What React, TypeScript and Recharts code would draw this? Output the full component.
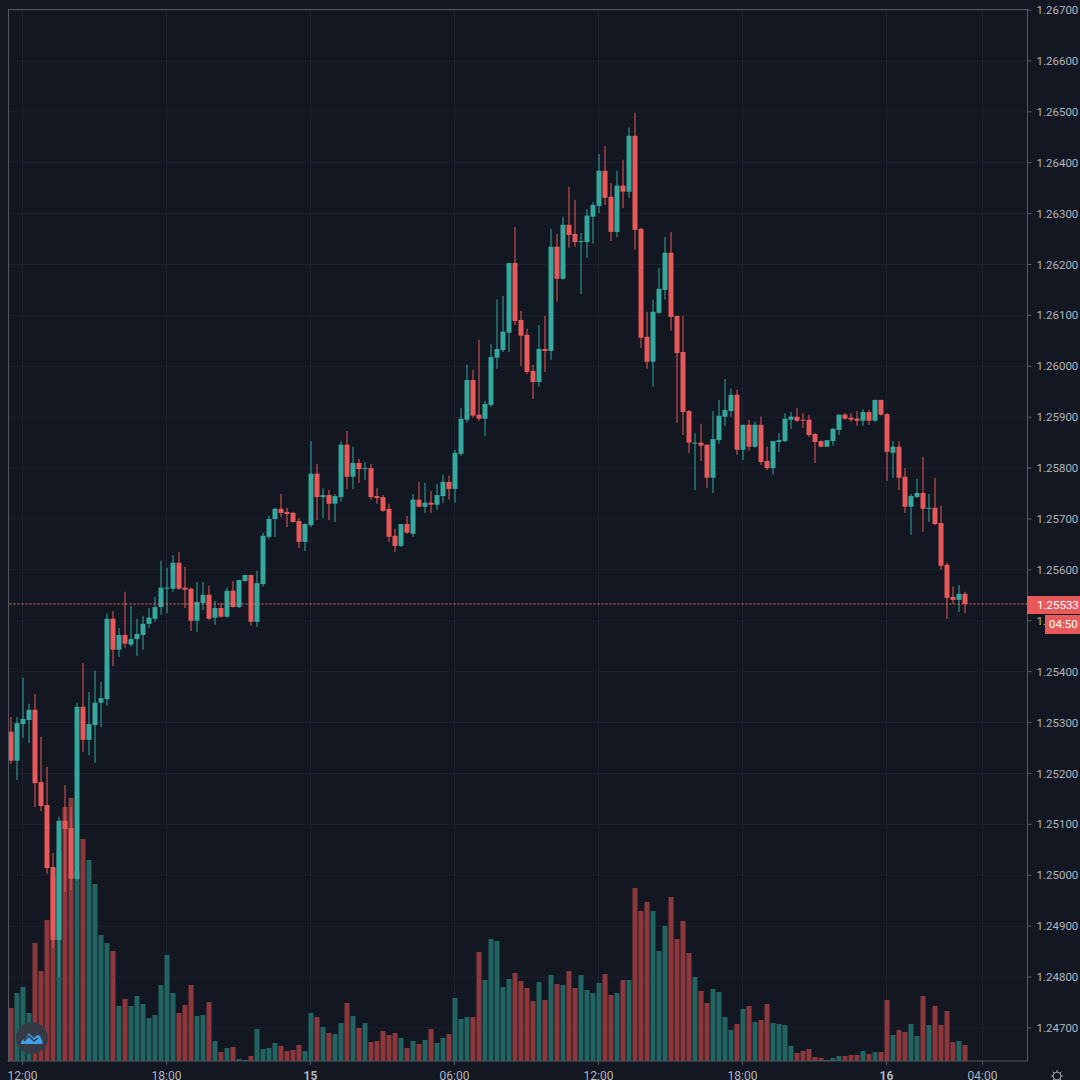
import { Bar, CartesianGrid, Cell, ComposedChart, ReferenceLine, XAxis, YAxis } from 'recharts';

// 15 minute candles, five decimal quotes
const opens = [
  1.25282, 1.25225, 1.25297, 1.25305, 1.25325, 1.25183, 1.25138, 1.25016, 1.24873, 1.25107,
  1.25093, 1.24993, 1.25331, 1.25266, 1.25295, 1.25339, 1.25346, 1.25504, 1.25443, 1.25472,
  1.25453, 1.25464, 1.25472, 1.25494, 1.25504, 1.25527, 1.25563, 1.25563, 1.25614, 1.25565,
  1.25563, 1.255, 1.25535, 1.25551, 1.25506, 1.25525, 1.25508, 1.25559, 1.25527, 1.25578,
  1.2559, 1.25498, 1.25572, 1.25665, 1.257, 1.2572, 1.25714, 1.25712, 1.25696, 1.25655,
  1.25688, 1.25789, 1.25743, 1.25747, 1.2573, 1.25743, 1.25846, 1.25783, 1.2581, 1.25798,
  1.258, 1.25745, 1.25743, 1.2572, 1.25667, 1.25647, 1.2569, 1.25671, 1.25738, 1.25724,
  1.25732, 1.25728, 1.25745, 1.25773, 1.25759, 1.25828, 1.25895, 1.25973, 1.25905, 1.25897,
  1.25924, 1.26017, 1.26032, 1.26066, 1.26203, 1.26091, 1.26062, 1.25991, 1.25969, 1.26034,
  1.2603, 1.26235, 1.26172, 1.26278, 1.2626, 1.26244, 1.26244, 1.26294, 1.26315, 1.26384,
  1.26333, 1.26264, 1.26355, 1.26343, 1.26453, 1.2627, 1.26058, 1.26009, 1.26105, 1.2615,
  1.26223, 1.26099, 1.26028, 1.25912, 1.25848, 1.2585, 1.25846, 1.25781, 1.25855, 1.25901,
  1.25912, 1.25944, 1.25836, 1.25885, 1.25842, 1.25885, 1.25814, 1.258, 1.25851, 1.25853,
  1.25895, 1.25901, 1.25895, 1.25895, 1.25867, 1.25853, 1.25842, 1.25853, 1.25875, 1.25905,
  1.25899, 1.25897, 1.25893, 1.2591, 1.25893, 1.25934, 1.25906, 1.2583, 1.25842, 1.25783,
  1.25724, 1.25743, 1.25751, 1.2572, 1.25722, 1.25692, 1.2561, 1.25547, 1.25541, 1.25553,
];
const highs = [
  1.25311, 1.25311, 1.25388, 1.25337, 1.25356, 1.25272, 1.25213, 1.25044, 1.25115, 1.25177,
  1.25134, 1.25339, 1.25417, 1.2536, 1.25402, 1.2538, 1.25514, 1.25519, 1.25486, 1.25557,
  1.25529, 1.25504, 1.2551, 1.25525, 1.25547, 1.25618, 1.25604, 1.25629, 1.25635, 1.25606,
  1.25565, 1.25576, 1.25576, 1.25569, 1.25539, 1.25535, 1.25565, 1.25578, 1.2558, 1.2559,
  1.2559, 1.25598, 1.25673, 1.25706, 1.25722, 1.25749, 1.25722, 1.25714, 1.25702, 1.25692,
  1.25853, 1.25808, 1.25761, 1.25757, 1.25749, 1.25853, 1.25873, 1.25842, 1.25818, 1.25812,
  1.25808, 1.25761, 1.25747, 1.2573, 1.25681, 1.2569, 1.25706, 1.25749, 1.25773, 1.25771,
  1.25755, 1.25769, 1.25787, 1.25785, 1.25836, 1.25918, 1.26003, 1.25993, 1.26052, 1.25932,
  1.26044, 1.26131, 1.26138, 1.26203, 1.26274, 1.26109, 1.26074, 1.26003, 1.26081, 1.26099,
  1.2627, 1.2626, 1.26294, 1.26353, 1.26327, 1.26262, 1.26309, 1.26323, 1.26417, 1.26433,
  1.2636, 1.26384, 1.26406, 1.26469, 1.26498, 1.26272, 1.26107, 1.26131, 1.26193, 1.26254,
  1.26264, 1.26099, 1.26099, 1.25914, 1.25869, 1.25887, 1.25846, 1.25912, 1.25934, 1.25975,
  1.25956, 1.25954, 1.25885, 1.25895, 1.25891, 1.25901, 1.25842, 1.25853, 1.25869, 1.25908,
  1.2591, 1.25918, 1.25908, 1.25905, 1.25869, 1.25855, 1.25855, 1.25879, 1.25905, 1.25908,
  1.25908, 1.25912, 1.25916, 1.25914, 1.25934, 1.25934, 1.25908, 1.25853, 1.25853, 1.258,
  1.25749, 1.25779, 1.25822, 1.25749, 1.25781, 1.25726, 1.25614, 1.25567, 1.2557, 1.25557,
];
const lows = [
  1.25219, 1.25187, 1.2527, 1.2526, 1.25134, 1.25126, 1.25003, 1.24857, 1.248, 1.24967,
  1.24971, 1.24989, 1.25242, 1.25236, 1.25221, 1.25291, 1.25333, 1.25411, 1.25429, 1.25447,
  1.25449, 1.25431, 1.25443, 1.25486, 1.25498, 1.25512, 1.25515, 1.25557, 1.25561, 1.25525,
  1.2548, 1.25478, 1.25521, 1.25502, 1.25492, 1.25506, 1.25506, 1.25526, 1.25525, 1.25577,
  1.2549, 1.25488, 1.25567, 1.25661, 1.25665, 1.25704, 1.25684, 1.25693, 1.25643, 1.25637,
  1.25684, 1.25698, 1.25702, 1.25698, 1.25694, 1.25734, 1.25759, 1.25759, 1.25771, 1.25777,
  1.25738, 1.2573, 1.25714, 1.25655, 1.25635, 1.25645, 1.25671, 1.25665, 1.25723, 1.25712,
  1.25712, 1.25718, 1.25732, 1.25738, 1.25732, 1.25824, 1.25889, 1.25899, 1.25893, 1.25863,
  1.2592, 1.25995, 1.26028, 1.26028, 1.26081, 1.26001, 1.25985, 1.25936, 1.2596, 1.25989,
  1.26013, 1.26127, 1.2617, 1.26233, 1.26235, 1.26142, 1.26213, 1.26241, 1.26301, 1.26317,
  1.26246, 1.26254, 1.26311, 1.26331, 1.26229, 1.26036, 1.25995, 1.2596, 1.26103, 1.26131,
  1.2607, 1.25889, 1.25865, 1.2583, 1.25757, 1.25814, 1.25761, 1.25751, 1.25848, 1.25883,
  1.25901, 1.25826, 1.25816, 1.25834, 1.2584, 1.25806, 1.25796, 1.25787, 1.25832, 1.25851,
  1.25877, 1.25891, 1.25879, 1.25861, 1.2581, 1.25841, 1.25841, 1.25844, 1.25865, 1.25895,
  1.25891, 1.25883, 1.25883, 1.25885, 1.25891, 1.25903, 1.25775, 1.25781, 1.25757, 1.25712,
  1.25669, 1.25742, 1.25675, 1.25694, 1.25688, 1.256, 1.25504, 1.25533, 1.25517, 1.25515,
];
const closes = [
  1.25225, 1.25299, 1.25307, 1.25325, 1.25181, 1.25136, 1.25014, 1.24873, 1.25107, 1.25091,
  1.24993, 1.25331, 1.25266, 1.25297, 1.25339, 1.25348, 1.25504, 1.25443, 1.25472, 1.25455,
  1.25464, 1.25474, 1.25494, 1.25506, 1.25527, 1.25565, 1.25565, 1.25614, 1.25563, 1.25561,
  1.255, 1.25537, 1.25551, 1.25504, 1.25525, 1.25508, 1.25559, 1.25527, 1.2558, 1.2559,
  1.25498, 1.25574, 1.25667, 1.257, 1.2572, 1.25712, 1.2571, 1.25694, 1.25655, 1.2569,
  1.25789, 1.25743, 1.25747, 1.2573, 1.25745, 1.25846, 1.25783, 1.2581, 1.25798, 1.258,
  1.25743, 1.25741, 1.25716, 1.25665, 1.25647, 1.2569, 1.25673, 1.25738, 1.25724, 1.25732,
  1.25728, 1.25747, 1.25773, 1.25759, 1.2583, 1.25897, 1.25973, 1.25903, 1.25897, 1.25926,
  1.26018, 1.26034, 1.26068, 1.26203, 1.26089, 1.2606, 1.25989, 1.25969, 1.26034, 1.2603,
  1.26235, 1.26172, 1.26278, 1.26258, 1.26244, 1.26246, 1.26296, 1.26317, 1.26384, 1.26331,
  1.26264, 1.26355, 1.26343, 1.26453, 1.26268, 1.26056, 1.26009, 1.26107, 1.26152, 1.26223,
  1.26097, 1.26026, 1.2591, 1.2585, 1.2585, 1.25844, 1.25781, 1.25857, 1.25903, 1.25914,
  1.25944, 1.25836, 1.25885, 1.25842, 1.25885, 1.25812, 1.258, 1.25853, 1.25855, 1.25897,
  1.25901, 1.25893, 1.25893, 1.25865, 1.25851, 1.25842, 1.25855, 1.25877, 1.25905, 1.25897,
  1.25895, 1.25893, 1.2591, 1.25893, 1.25934, 1.25905, 1.25832, 1.25842, 1.25781, 1.25724,
  1.25745, 1.25751, 1.2572, 1.25722, 1.2569, 1.25608, 1.25545, 1.25541, 1.25553, 1.25533,
];
const volumes = [
  53, 68, 74, 48, 118, 90, 141, 185, 210, 254,
  263, 190, 222, 201, 177, 126, 118, 110, 55, 62,
  55, 65, 57, 43, 46, 76, 106, 68, 48, 56,
  76, 45, 46, 59, 20, 9, 13, 14, 2, 1,
  5, 32, 12, 13, 18, 15, 10, 11, 16, 10,
  48, 44, 34, 28, 27, 38, 58, 45, 33, 38,
  19, 20, 30, 26, 28, 23, 13, 20, 17, 21,
  32, 18, 23, 27, 63, 42, 44, 44, 109, 81,
  122, 120, 74, 82, 88, 80, 73, 60, 79, 61,
  86, 77, 76, 90, 73, 86, 71, 68, 78, 87,
  66, 68, 81, 81, 173, 150, 159, 150, 110, 135,
  164, 122, 140, 108, 84, 70, 58, 72, 69, 44,
  31, 37, 52, 55, 39, 41, 57, 38, 37, 36,
  15, 8, 10, 12, 4, 3, 1, 3, 5, 5,
  6, 6, 10, 7, 9, 9, 61, 26, 31, 29,
  37, 25, 65, 36, 55, 36, 50, 19, 20, 16,
];

const priceTicks = [
  1.247, 1.248, 1.249, 1.25, 1.251, 1.252, 1.253, 1.254, 1.255, 1.256, 1.257,
  1.258, 1.259, 1.26, 1.261, 1.262, 1.263, 1.264, 1.265, 1.266, 1.267,
];
const timeSlots = [2, 26, 50, 74, 98, 122, 146, 162];
const timeLabels = ['12:00', '18:00', '15', '06:00', '12:00', '18:00', '16', '04:00'];
const lastPrice = 1.25533;
const emptySlots = 10; // room to the right of the last candle

const UP = '#37a89d';
const DOWN = '#e85a5a';
const UP_VOL = '#226462';
const DOWN_VOL = '#8c383c';
const BG = '#131722';
const GRID = '#1d2230';
const AXIS = '#555862';
const TEXT = '#b2b5be';
const FONT = 'Roboto, sans-serif';

const rows = Array.from({ length: opens.length + emptySlots }, (_, slot) =>
  slot < opens.length
    ? {
        slot,
        open: opens[slot],
        high: highs[slot],
        low: lows[slot],
        close: closes[slot],
        range: [lows[slot], highs[slot]],
        volume: volumes[slot],
      }
    : { slot, volume: null, range: null },
);

function Candle(props: any) {
  const { x, y, width, height, payload } = props;
  if (!payload || !payload.range) return null;
  const { open, high, low, close } = payload;
  const color = close >= open ? UP : DOWN;
  const perPrice = height / (high - low);
  const top = y + (high - Math.max(open, close)) * perPrice;
  const bodyHeight = Math.max(Math.abs(open - close) * perPrice, 1);
  const mid = x + width / 2;
  return (
    <g>
      <rect x={mid - 0.5} y={y} width={1} height={height} fill={color} />
      <rect x={x} y={top} width={width} height={bodyHeight} fill={color} />
    </g>
  );
}

function TimeTick(props: any) {
  const { x, y, payload } = props;
  const label = timeLabels[timeSlots.indexOf(payload.value)];
  const isDay = label.length === 2;
  return (
    <text x={x} y={y + 13} textAnchor="middle" fill={TEXT} fontSize={12} fontFamily={FONT} fontWeight={isDay ? 700 : 400}>
      {label}
    </text>
  );
}

export default function App() {
  return (
    <div style={{ position: 'fixed', left: 0, top: 0, width: 1080, height: 1080, background: BG, overflow: 'hidden' }}>
      <ComposedChart
        width={1080}
        height={1080}
        data={rows}
        margin={{ top: 9, left: 7.5, right: 0, bottom: 0 }}
        barCategoryGap={0}
      >
        <CartesianGrid stroke={GRID} xAxisId="time" yAxisId="price" syncWithTicks />
        <XAxis
          xAxisId="time"
          dataKey="slot"
          type="category"
          ticks={timeSlots}
          interval={0}
          height={19}
          stroke={AXIS}
          tickSize={4}
          tick={TimeTick}
        />
        <XAxis xAxisId="vol" dataKey="slot" type="category" hide />
        <YAxis
          yAxisId="price"
          orientation="right"
          width={52.5}
          domain={[1.24635, 1.26702]}
          ticks={priceTicks}
          interval={0}
          allowDataOverflow
          stroke={AXIS}
          tickSize={4}
          tickMargin={5}
          tick={{ fill: TEXT, fontSize: 11.5, fontFamily: FONT }}
          tickFormatter={(v: number) => v.toFixed(5)}
        />
        <YAxis yAxisId="volume" hide domain={[0, 1052]} />
        <Bar xAxisId="vol" yAxisId="volume" dataKey="volume" barSize={5} isAnimationActive={false}>
          {rows.map((r: any) => (
            <Cell key={r.slot} fill={r.close >= r.open ? UP_VOL : DOWN_VOL} />
          ))}
        </Bar>
        <Bar xAxisId="time" yAxisId="price" dataKey="range" barSize={5} shape={Candle} isAnimationActive={false} />
        <ReferenceLine xAxisId="time" yAxisId="price" y={lastPrice} stroke="#f07a70" strokeDasharray="2 2" />
      </ComposedChart>

      {/* frame, last price and countdown tags, logo and settings icon */}
      <div style={{ position: 'absolute', left: 8, top: 9, width: 1019, height: 1052, borderLeft: `1px solid ${AXIS}`, borderTop: `1px solid ${AXIS}`, pointerEvents: 'none' }} />
      <div style={{ position: 'absolute', left: 1027, top: 596, width: 53, height: 18, background: DOWN, color: '#fff', font: `11.5px ${FONT}`, lineHeight: '18px', paddingLeft: 10, boxSizing: 'border-box' }}>
        {lastPrice.toFixed(5)}
      </div>
      <div style={{ position: 'absolute', left: 1045, top: 615, width: 35, height: 19, background: DOWN, color: '#fff', font: `11.5px ${FONT}`, lineHeight: '19px', paddingLeft: 4, boxSizing: 'border-box' }}>
        04:50
      </div>
      <svg style={{ position: 'absolute', left: 16, top: 1022 }} width={32} height={32} viewBox="0 0 32 32">
        <circle cx={16} cy={16} r={16} fill="#363a45" />
        <path d="M5 22 C5 18 8 17 9 17 L13 11 L18 16 L21 13 C24 13 25 15 25 17 C27 18 27 22 26 22 Z" fill="#3fa0ee" />
        <path d="M8 19 L13 14 L18 19 L22 16" fill="none" stroke="#363a45" strokeWidth={1.5} />
      </svg>
      <svg style={{ position: 'absolute', left: 1050, top: 1069 }} width={14} height={14} viewBox="0 0 16 16">
        <circle cx={8} cy={8} r={4.5} fill="none" stroke={TEXT} strokeWidth={1} />
        <path d="M8 1 V3.5 M8 12.5 V15 M1 8 H3.5 M12.5 8 H15 M3 3 L4.8 4.8 M11.2 11.2 L13 13 M13 3 L11.2 4.8 M4.8 11.2 L3 13" stroke={TEXT} strokeWidth={1} />
      </svg>
    </div>
  );
}
